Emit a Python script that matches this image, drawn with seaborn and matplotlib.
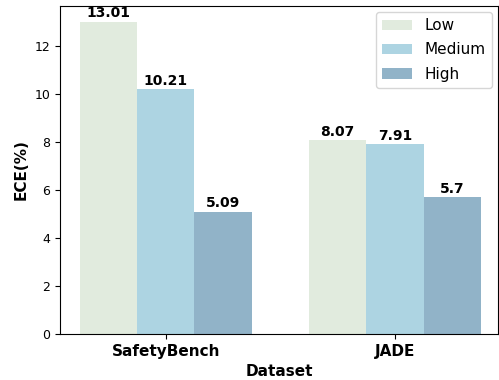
import matplotlib
matplotlib.use("Agg")
import matplotlib.pyplot as plt
import seaborn as sns
import pandas as pd

datasets = ["SafetyBench", "JADE"]
levels = ["Low", "Medium", "High"]
ece_low = [13.01, 8.07]
ece_medium = [10.21, 7.91]
ece_high = [5.09, 5.7]

rows = []
for i, d in enumerate(datasets):
    for lvl, vals in zip(levels, [ece_low, ece_medium, ece_high]):
        rows.append({"Dataset": d, "Level": lvl, "ECE": vals[i]})
df = pd.DataFrame(rows)

palette = {"Low": "#e1ebde", "Medium": "#add4e2", "High": "#91b3c8"}

fig = plt.figure(figsize=(4.99, 3.80), dpi=100)
ax = fig.add_axes([0.12, 0.121, 0.878, 0.863])
sns.barplot(data=df, x="Dataset", y="ECE", hue="Level", hue_order=levels,
            palette=palette, width=0.75, saturation=1, ax=ax)

for c in ax.containers:
    labels = [f"{v:g}" for v in c.datavalues]
    ax.bar_label(c, labels=labels, fontsize=10, fontweight="bold", padding=1)

ax.set_ylim(0, 13.66)
ax.set_xlim(-0.4625, 1.45)
ax.set_xlabel("Dataset", fontsize=11, fontweight="bold")
ax.set_ylabel("ECE(%)", fontsize=11, fontweight="bold")
for t in ax.get_xticklabels():
    t.set_fontweight("bold")
    t.set_fontsize(11)
ax.tick_params(axis="y", labelsize=9)
ax.legend(loc="upper right", fontsize=11, title=None, borderaxespad=0.4,
          labelspacing=0.6)

fig.savefig("out.png", dpi=100)
